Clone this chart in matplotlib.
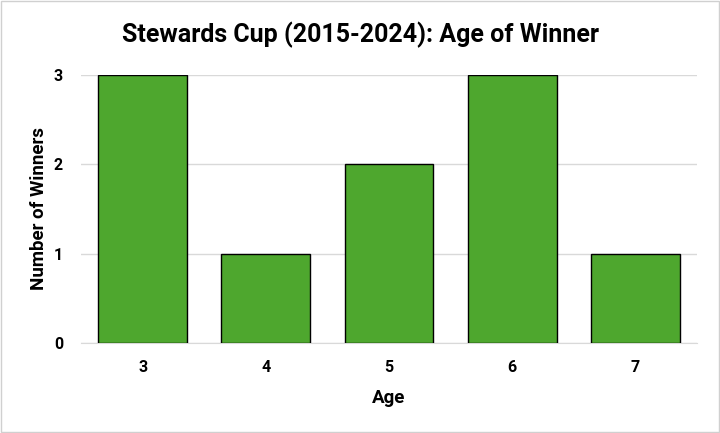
import matplotlib.pyplot as plt
from matplotlib.patches import Rectangle

# Data
ages = ['3', '4', '5', '6', '7']
winners = [3, 1, 2, 3, 1]

plt.rcParams['font.family'] = ['Roboto', 'DejaVu Sans']

fig = plt.figure(figsize=(7.2, 4.33), dpi=100)
ax = fig.add_axes([81 / 720, 1 - 343 / 433, (697 - 81) / 720, (343 - 75) / 433])

x = range(len(ages))
ax.bar(x, winners, width=0.72, color='#4EA72E', edgecolor='black', linewidth=1, zorder=3)

ax.set_xlim(-0.5, len(ages) - 0.5)
ax.set_ylim(0, 3)
ax.set_yticks([0, 1, 2, 3])
ax.set_xticks(list(x))
ax.set_xticklabels(ages)
ax.grid(axis='y', color='#D9D9D9', linewidth=1, zorder=0)
for s in ['top', 'right', 'left']:
    ax.spines[s].set_visible(False)
ax.spines['bottom'].set_color('#D9D9D9')
ax.tick_params(length=0, labelsize=11.5)
ax.tick_params(axis='x', pad=12)
ax.tick_params(axis='y', pad=13)
for lbl in ax.get_xticklabels() + ax.get_yticklabels():
    lbl.set_fontweight('bold')

ax.set_xlabel('Age', fontsize=13.5, fontweight='bold', labelpad=10)
ax.set_ylabel('Number of Winners', fontsize=13.5, fontweight='bold', labelpad=4)

fig.suptitle('Stewards Cup (2015-2024): Age of Winner', fontsize=18, fontweight='bold',
             x=0.5, y=0.95)

# outer border
fig.patches.append(Rectangle((0.001, 0.002), 0.997, 0.995, transform=fig.transFigure,
                             fill=False, edgecolor='#D0D0D0', linewidth=1))

fig.savefig('out.png', dpi=100)
